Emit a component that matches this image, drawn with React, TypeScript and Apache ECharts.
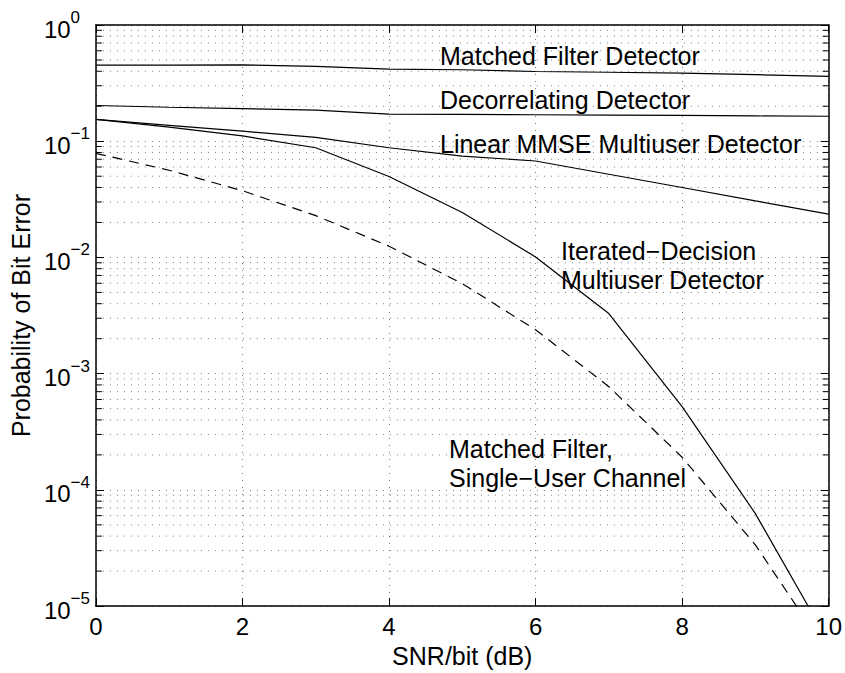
import React, { useEffect, useRef } from "react";
import * as echarts from "echarts";

// ---- data ----
const snrDb = [0, 1, 2, 3, 4, 5, 6, 7, 8, 9, 10];
const matchedFilterDetector = [0.452, 0.452, 0.454, 0.44, 0.418, 0.412, 0.398, 0.392, 0.386, 0.374, 0.361];
const decorrelatingDetector = [0.203, 0.196, 0.191, 0.185, 0.171, 0.170, 0.169, 0.168, 0.167, 0.165, 0.164];
const linearMmseDetector = [0.154, 0.137, 0.122, 0.108, 0.0879, 0.0745, 0.0676, 0.052, 0.040, 0.0307, 0.0236];
const iteratedDecisionDetector = [0.154, 0.132, 0.111, 0.0879, 0.0497, 0.0244, 0.0101, 0.00329, 0.00052, 0.0000625, 0.0000049];
const matchedFilterSingleUser = [0.0786, 0.0563, 0.0375, 0.0229, 0.0125, 0.00595, 0.00239, 0.000773, 0.000191, 0.0000336, 0.00000387];

const xTicks = [0, 2, 4, 6, 8, 10];
const yDecades = [-5, -4, -3, -2, -1, 0];
const minorMantissas = [2, 3, 4, 5, 6, 7, 8, 9];

const FONT = "'Liberation Sans', Arial, Helvetica, sans-serif";

const minorValues: number[] = [];
yDecades.slice(0, -1).forEach((d) => {
  minorMantissas.forEach((m) => minorValues.push(m * Math.pow(10, d)));
});

const pair = (ys: number[]) => snrDb.map((x, i) => [x, ys[i]]);

export default function App() {
  const ref = useRef<HTMLDivElement>(null);
  useEffect(() => {
    if (!ref.current) return;
    const chart = echarts.init(ref.current, null, { renderer: "svg" });
    const dotted = { color: "#7a7a7a", width: 1, type: [1, 6] as any };
    const lineSeries = (name: string, ys: number[], dashed = false) => ({
      name,
      type: "line",
      data: pair(ys),
      showSymbol: false,
      symbol: "none",
      z: 5,
      lineStyle: { color: "#000", width: 1.2, type: dashed ? ([10, 7] as any) : "solid" },
      clip: true,
    });
    const text = (t: string, x: number, y: number) => ({
      type: "text",
      x,
      y,
      z: 10,
      style: {
        text: t,
        fill: "#000",
        font: `25px ${FONT}`,
        fontSize: 25,
        fontFamily: FONT,
        align: "left",
        verticalAlign: "middle",
        textAlign: "left",
        textVerticalAlign: "middle",
      },
    });
    chart.setOption({
      animation: false,
      backgroundColor: "#fff",
      textStyle: { fontFamily: FONT, color: "#000" },
      grid: { left: 90, top: 25, right: 15, bottom: 64, containLabel: false },
      xAxis: [
        {
          type: "value",
          min: xTicks[0],
          max: xTicks[xTicks.length - 1],
          interval: 2,
          name: "SNR/bit (dB)",
          nameLocation: "middle",
          nameGap: 33,
          nameTextStyle: { fontSize: 25, color: "#000", fontFamily: FONT },
          axisLine: { show: true, onZero: false, lineStyle: { color: "#000", width: 1.5 } },
          axisTick: { show: true, inside: true, length: 8, lineStyle: { color: "#000" } },
          axisLabel: { fontSize: 24, color: "#000", margin: 8, fontFamily: FONT },
          splitLine: { show: true, lineStyle: dotted },
        },
        {
          type: "value",
          position: "top",
          min: xTicks[0],
          max: xTicks[xTicks.length - 1],
          interval: 2,
          axisLine: { show: true, onZero: false, lineStyle: { color: "#000", width: 1.5 } },
          axisTick: { show: true, inside: true, length: 8, lineStyle: { color: "#000" } },
          axisLabel: { show: false },
          splitLine: { show: false },
        },
      ],
      yAxis: [
        {
          type: "log",
          logBase: 10,
          min: Math.pow(10, yDecades[0]),
          max: Math.pow(10, yDecades[yDecades.length - 1]),
          name: "Probability of Bit Error",
          nameLocation: "middle",
          nameGap: 54,
          nameTextStyle: { fontSize: 25, color: "#000", fontFamily: FONT },
          axisLine: { show: true, onZero: false, lineStyle: { color: "#000", width: 1.5 } },
          axisTick: { show: true, inside: true, length: 8, lineStyle: { color: "#000" } },
          axisLabel: {
            align: "left",
            margin: 52,
            formatter: (v: number) => {
              const e = Math.round(Math.log10(v));
              const s = e < 0 ? "\u2212" + -e : String(e);
              return `{b|10}{e|${s}}`;
            },
            rich: {
              b: { fontSize: 24, lineHeight: 32, verticalAlign: "bottom", fontFamily: FONT, color: "#000" },
              e: { fontSize: 17, lineHeight: 16, verticalAlign: "top", fontFamily: FONT, color: "#000" },
            },
          },
          splitLine: { show: true, lineStyle: dotted },
        },
        {
          type: "log",
          logBase: 10,
          position: "right",
          min: Math.pow(10, yDecades[0]),
          max: Math.pow(10, yDecades[yDecades.length - 1]),
          axisLine: { show: true, onZero: false, lineStyle: { color: "#000", width: 1.5 } },
          axisTick: { show: true, inside: true, length: 8, lineStyle: { color: "#000" } },
          axisLabel: { show: false },
          splitLine: { show: false },
        },
      ],
      graphic: [
        text("Matched Filter Detector", 440, 56),
        text("Decorrelating Detector", 440, 100),
        text("Linear MMSE Multiuser Detector", 440, 144),
        text("Iterated\u2212Decision", 561, 251),
        text("Multiuser Detector", 561, 280),
        text("Matched Filter,", 449, 449),
        text("Single\u2212User Channel", 449, 478),
      ],
      series: [
        {
          type: "custom",
          silent: true,
          z: 1,
          clip: false,
          data: minorValues.map((v) => [0, v]),
          renderItem: (params: any, api: any) => {
            const cs = params.coordSys;
            const y = api.coord([0, api.value(1)])[1];
            const l = cs.x;
            const r = cs.x + cs.width;
            return {
              type: "group",
              children: [
                { type: "line", shape: { x1: l, y1: y, x2: r, y2: y }, style: { stroke: "#7a7a7a", lineWidth: 1, lineDash: [1, 6] } },
                { type: "line", shape: { x1: l, y1: y, x2: l + 6, y2: y }, style: { stroke: "#000", lineWidth: 1 } },
                { type: "line", shape: { x1: r - 6, y1: y, x2: r, y2: y }, style: { stroke: "#000", lineWidth: 1 } },
              ],
            };
          },
        },
        lineSeries("Matched Filter Detector", matchedFilterDetector),
        lineSeries("Decorrelating Detector", decorrelatingDetector),
        lineSeries("Linear MMSE Multiuser Detector", linearMmseDetector),
        lineSeries("Iterated-Decision Multiuser Detector", iteratedDecisionDetector),
        lineSeries("Matched Filter, Single-User Channel", matchedFilterSingleUser, true),
      ],
    });
    return () => chart.dispose();
  }, []);
  return <div ref={ref} style={{ width: 845, height: 673, position: "absolute", left: 0, top: 0 }} />;
}
